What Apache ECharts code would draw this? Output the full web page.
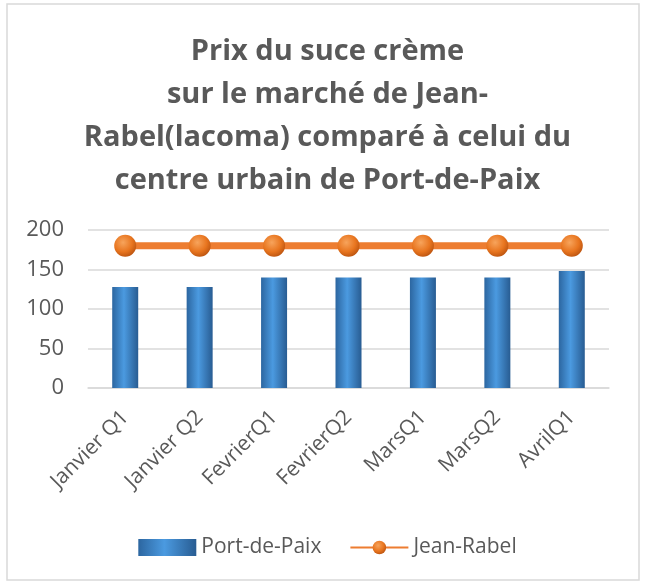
<!DOCTYPE html>
<html>
<head>
<meta charset="utf-8">
<script src="https://cdn.jsdelivr.net/npm/echarts@6/dist/echarts.min.js"></script>
<style>
  html, body { margin: 0; padding: 0; background: #fff; }
  #box { width: 655px; height: 586px; }
</style>
</head>
<body>
<div id="box"></div>
<script>
var categories = ['Janvier Q1', 'Janvier Q2', 'FevrierQ1', 'FevrierQ2', 'MarsQ1', 'MarsQ2', 'AvrilQ1'];
var portDePaix = [128, 128, 140, 140, 140, 140, 148];
var jeanRabel = [180, 180, 180, 180, 180, 180, 180];
var yTicks = [0, 50, 100, 150, 200];

var myChart = echarts.init(document.getElementById('box'));

var barColor = new echarts.graphic.LinearGradient(0, 0, 1, 0, [
    { offset: 0, color: '#2c66a0' },
    { offset: 0.45, color: '#4b9ae0' },
    { offset: 1, color: '#285c92' }
]);
var dotColor = new echarts.graphic.RadialGradient(0.4, 0.35, 0.7, [
    { offset: 0, color: '#f7a45c' },
    { offset: 0.6, color: '#e8751f' },
    { offset: 1, color: '#b9520f' }
]);

myChart.setOption({
    textStyle: { fontFamily: 'Open Sans' },
    graphic: [{
        type: 'rect',
        shape: { x: 7, y: 4, width: 632, height: 576 },
        style: { fill: 'none', stroke: '#d9d9d9', lineWidth: 1.5 },
        silent: true
    }],
    title: {
        text: 'Prix du suce crème\nsur le marché de Jean-\nRabel(lacoma) comparé à celui du\ncentre urbain de Port-de-Paix',
        left: 'center',
        top: 25,
        textStyle: {
            fontFamily: 'Open Sans',
            fontWeight: 'bold',
            fontSize: 29,
            lineHeight: 43,
            color: '#595959'
        }
    },
    legend: {
        bottom: 23,
        left: 'center',
        itemGap: 28,
        itemWidth: 58,
        itemHeight: 17,
        textStyle: { fontSize: 21, color: '#595959' },
        data: [
            { name: 'Port-de-Paix', icon: 'rect' },
            { name: 'Jean-Rabel' }
        ]
    },
    grid: {
        left: 88,
        right: 46,
        top: 230,
        bottom: 198
    },
    xAxis: {
        type: 'category',
        data: categories,
        axisTick: { show: false },
        axisLine: { lineStyle: { color: '#d9d9d9', width: 1.5 } },
        axisLabel: {
            rotate: 45,
            margin: 26,
            fontSize: 21,
            color: '#595959',
            interval: 0
        }
    },
    yAxis: {
        type: 'value',
        min: yTicks[0],
        max: yTicks[yTicks.length - 1],
        interval: 50,
        axisLine: { show: false },
        axisTick: { show: false },
        splitLine: { lineStyle: { color: '#d9d9d9', width: 1.5 } },
        axisLabel: { fontSize: 22, color: '#595959', margin: 24 }
    },
    series: [{
            name: 'Port-de-Paix',
            type: 'bar',
            barWidth: 26,
            data: portDePaix,
            itemStyle: { color: barColor }
        },
        {
            name: 'Jean-Rabel',
            type: 'line',
            data: jeanRabel,
            symbol: 'circle',
            symbolSize: 22,
            lineStyle: { color: '#ED7D31', width: 7 },
            itemStyle: { color: dotColor }
        }
    ]
});
</script>
</body>
</html>
